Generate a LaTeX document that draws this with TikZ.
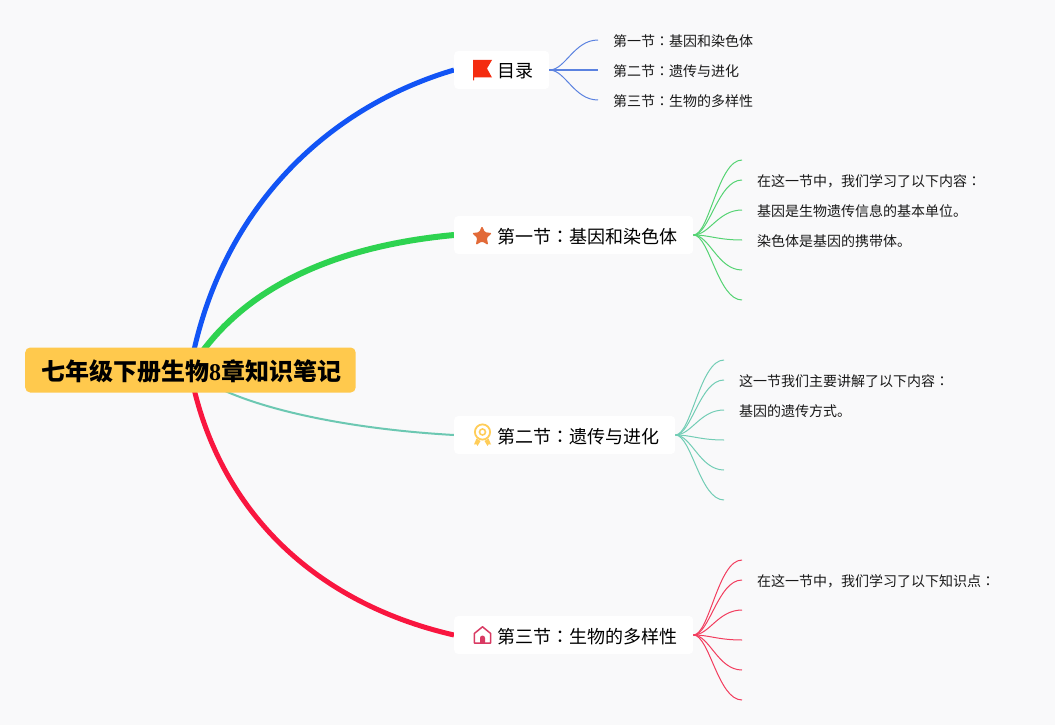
\documentclass[tikz,border=0pt]{standalone}
\usepackage{fontspec}
\setmainfont{Noto Sans CJK SC}
\newfontfamily\digitfont{Liberation Serif}[BoldFont={Liberation Serif Bold}]
\newfontfamily\colonfont{Noto Sans CJK TC}
\newcommand{\cln}{{\colonfont ：}}
\newcommand{\lowr}[2]{\raisebox{-#1pt}[\height][\depth]{#2}}
\definecolor{bgc}{HTML}{F9F9FA}
\definecolor{rootc}{HTML}{FFC94D}
\definecolor{cblue}{HTML}{1254F5}
\definecolor{cgreen}{HTML}{2ED350}
\definecolor{cteal}{HTML}{6CC8B2}
\definecolor{cred}{HTML}{F9163F}
\definecolor{tblue}{HTML}{5B82E0}
\definecolor{tgreen}{HTML}{55D373}
\definecolor{tteal}{HTML}{72CDB5}
\definecolor{tred}{HTML}{F23D5E}
\definecolor{cflag}{HTML}{F42C10}
\definecolor{cstar}{HTML}{E26A38}
\definecolor{cmedal}{HTML}{FFCD58}
\definecolor{chouse}{HTML}{D93A63}
\tikzset{
  x=1pt,y=-1pt,
  rootnode/.style={fill=rootc,rounded corners=5pt,anchor=west,inner xsep=14.5pt,inner ysep=0pt,minimum height=45pt,font=\fontsize{24}{24}\selectfont\bfseries},
  branchnode/.style={fill=white,rounded corners=4pt,anchor=west,inner xsep=16pt,inner ysep=0pt,minimum height=38pt,font=\fontsize{18}{18}\selectfont},
  leafnode/.style={anchor=west,inner xsep=15pt,inner ysep=0pt,font=\fontsize{14}{14}\selectfont,text=black!90},
  twig/.style={line width=1pt},
}
\newcommand{\twigto}[3]{\draw[twig,#1] (#2) .. controls +(16,0) and +(-24,0) .. (#3);}
\begin{document}
\begin{tikzpicture}
\useasboundingbox (0,0) rectangle (1055,725);
\fill[bgc] (0,0) rectangle (1055,725);

\coordinate (hub) at (190,370);
\coordinate (in1) at (454,70);
\coordinate (in2) at (454,235);
\coordinate (in3) at (454,435);
\coordinate (in4) at (454,635);

\draw[cblue,line width=5pt] (hub) .. controls (218,212) and (325,108) .. (in1);
\draw[cgreen,line width=6pt] (hub) .. controls (232,300) and (315,248) .. (in2);
\draw[cteal,line width=2pt] (hub) .. controls (226,402) and (330,428) .. (in3);
\draw[cred,line width=5pt] (hub) .. controls (215,505) and (310,602) .. (in4);

\node[rootnode] (root) at (25,370) {\lowr{1.8}{\hspace{1.5pt}七年级下册生物{\digitfont 8}章知识笔记}};
\node[branchnode] (b1) at (454,70) {\lowr{1.4}{\hspace{27pt}目录}};
\node[branchnode] (b2) at (454,235) {\lowr{1.4}{\hspace{27pt}第一节\cln 基因和染色体}};
\node[branchnode] (b3) at (454,435) {\lowr{1.4}{\hspace{27pt}第二节\cln 遗传与进化}};
\node[branchnode] (b4) at (454,635) {\lowr{1.4}{\hspace{27pt}第三节\cln 生物的多样性}};

% leaves of 目录
\node[leafnode] (a1) at (598,40) {\lowr{1.2}{第一节\cln 基因和染色体}};
\node[leafnode] (a2) at (598,70) {\lowr{1.2}{第二节\cln 遗传与进化}};
\node[leafnode] (a3) at (598,100) {\lowr{1.2}{第三节\cln 生物的多样性}};
\twigto{tblue}{b1.east}{a1.west}
\twigto{tblue,line width=1.6pt}{b1.east}{a2.west}
\twigto{tblue}{b1.east}{a3.west}

% leaves of 第一节
\coordinate (c0) at (742,160);
\node[leafnode] (c1) at (742,180) {\lowr{1.2}{在这一节中，我们学习了以下内容\cln}};
\node[leafnode] (c2) at (742,210) {\lowr{1.2}{基因是生物遗传信息的基本单位。}};
\node[leafnode] (c3) at (742,240) {\lowr{1.2}{染色体是基因的携带体。}};
\coordinate (c4) at (742,270);
\coordinate (c5) at (742,300);
\foreach \n in {c0,c4,c5} {\twigto{tgreen}{b2.east}{\n}}
\foreach \n in {c1,c2,c3} {\twigto{tgreen}{b2.east}{\n.west}}

% leaves of 第二节
\coordinate (d0) at (724,360);
\node[leafnode] (d1) at (724,380) {\lowr{1.2}{这一节我们主要讲解了以下内容\cln}};
\node[leafnode] (d2) at (724,410) {\lowr{1.2}{基因的遗传方式。}};
\coordinate (d3) at (724,440);
\coordinate (d4) at (724,470);
\coordinate (d5) at (724,500);
\foreach \n in {d0,d3,d4,d5} {\twigto{tteal}{b3.east}{\n}}
\foreach \n in {d1,d2} {\twigto{tteal}{b3.east}{\n.west}}

% leaves of 第三节
\coordinate (e0) at (742,560);
\node[leafnode] (e1) at (742,580) {\lowr{1.2}{在这一节中，我们学习了以下知识点\cln}};
\coordinate (e2) at (742,610);
\coordinate (e3) at (742,640);
\coordinate (e4) at (742,670);
\coordinate (e5) at (742,700);
\foreach \n in {e0,e2,e3,e4,e5} {\twigto{tred}{b4.east}{\n}}
\twigto{tred}{b4.east}{e1.west}

% flag icon
\fill[cflag] (473,60) -- (492,60) -- (487,68.5) -- (492,77.5) -- (474.2,77.5) -- (474.2,80.5) -- (473,80.5) -- cycle;

% star icon
\fill[cstar,rounded corners=1.2pt] (482,226) -- (484.9,232.2) -- (492,233.1) -- (486.8,237.8) -- (488.2,245) -- (482,241.4) -- (475.8,245) -- (477.2,237.8) -- (472,233.1) -- (479.1,232.2) -- cycle;

% medal icon
\draw[cmedal,line width=1.8pt] (482.5,432) circle (7.6pt);
\draw[cmedal,line width=1.6pt] (482.5,432) circle (3pt);
\fill[cmedal] (476.5,438.5) -- (474,444.5) -- (476.3,444.2) -- (477.5,446) -- (480.5,441) -- cycle;
\fill[cmedal] (488.5,438.5) -- (491,444.5) -- (488.7,444.2) -- (487.5,446) -- (484.5,441) -- cycle;

% house icon
\draw[chouse,line width=1.5pt,line join=round] (474.3,633.5) -- (482.5,626.8) -- (490.7,633.5) -- (490.7,643) -- (474.3,643) -- cycle;
\fill[chouse] (480,643) -- (480,638) arc[start angle=180,end angle=0,radius=2.5pt] -- (485,643) -- cycle;
\end{tikzpicture}
\end{document}
